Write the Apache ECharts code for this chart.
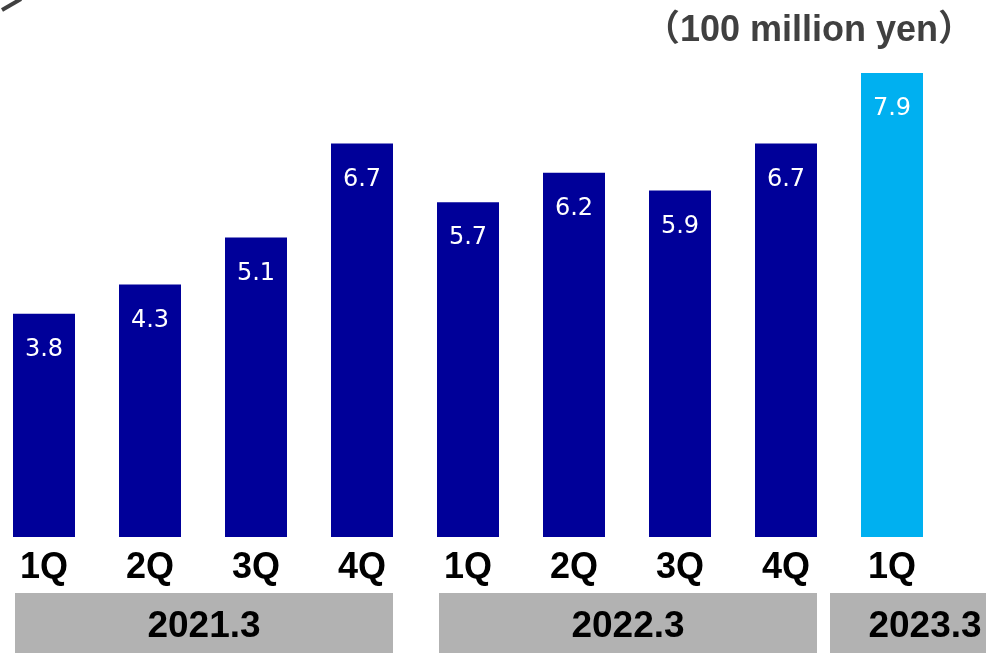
<!DOCTYPE html>
<html>
<head>
<meta charset="utf-8">
<script src="https://cdn.jsdelivr.net/npm/echarts@6/dist/echarts.min.js"></script>
<style>
  html, body { margin: 0; padding: 0; background: #ffffff; overflow: hidden; }
  #frame { position: relative; width: 986px; height: 653px; overflow: hidden; }
  /* the plot runs slightly past the left edge, so the canvas starts left of the frame */
  #chart { position: absolute; left: -9px; top: 0; width: 995px; height: 653px; }
</style>
</head>
<body>
<div id="frame"><div id="chart"></div></div>
<script>
// Quarterly figures, 100 million yen
const quarters = ['1Q', '2Q', '3Q', '4Q', '1Q', '2Q', '3Q', '4Q', '1Q'];
const values = [3.8, 4.3, 5.1, 6.7, 5.7, 6.2, 5.9, 6.7, 7.9];
const fiscalYears = ['2021.3', '2022.3', '2023.3'];
const yearFirstIndex = [0, 4, 8];
const yearLastIndex = [3, 7, 8];
const unitLabel = '（100 million yen）';

const DARK = '#000099';
const LIGHT = '#00B0F0';
const latestIndex = values.length - 1;
const SHIFT = 9; // canvas offset to the left of the frame

const chart = echarts.init(document.getElementById('chart'), null, { renderer: 'canvas' });

chart.setOption({
  animation: false,
  backgroundColor: '#ffffff',
  title: {
    text: unitLabel,
    right: 7,
    top: 8,
    textStyle: {
      fontFamily: 'Liberation Sans, Arial, Noto Sans CJK JP',
      fontWeight: 'bold',
      fontSize: 36,
      color: '#404040'
    }
  },
  grid: { left: 0, right: 41, top: 8.4, bottom: 116, containLabel: false },
  xAxis: {
    type: 'category',
    data: quarters,
    axisLine: { show: false },
    axisTick: { show: false },
    axisLabel: {
      margin: 13,
      fontFamily: 'Liberation Sans, Arial',
      fontWeight: 'bold',
      fontSize: 36,
      color: '#000000'
    }
  },
  yAxis: {
    type: 'value',
    min: 0,
    max: 9,
    show: false
  },
  series: [{
    type: 'bar',
    barWidth: 62,
    data: values.map((v, i) => ({
      value: v,
      itemStyle: { color: i === latestIndex ? LIGHT : DARK }
    })),
    label: {
      show: true,
      position: 'insideTop',
      distance: 24,
      formatter: p => p.value.toFixed(1),
      fontFamily: 'DejaVu Sans, Verdana',
      fontSize: 24,
      color: '#ffffff'
    }
  }]
});

// Fiscal-year bands beneath the quarter labels, placed from the category axis
const bandPad = [[29, 31], [29, 31], [62, 128]];
const bandTop = 593;
const bandHeight = 62;
const graphics = [{
  type: 'line',
  shape: { x1: 2 + SHIFT, y1: 10, x2: 21 + SHIFT, y2: -1 },
  style: { stroke: '#404040', lineWidth: 4 }
}];
fiscalYears.forEach((name, g) => {
  const x0 = chart.convertToPixel({ xAxisIndex: 0 }, yearFirstIndex[g]) - bandPad[g][0];
  const x1 = chart.convertToPixel({ xAxisIndex: 0 }, yearLastIndex[g]) + bandPad[g][1];
  graphics.push({
    type: 'rect',
    shape: { x: x0, y: bandTop, width: x1 - x0, height: bandHeight },
    style: { fill: '#b2b2b2' }
  });
  graphics.push({
    type: 'text',
    x: (x0 + x1) / 2,
    y: bandTop + 34,
    style: {
      text: name,
      align: 'center',
      verticalAlign: 'middle',
      font: 'bold 37px "Liberation Sans", Arial',
      fill: '#000000'
    }
  });
});
chart.setOption({ graphic: graphics });
</script>
</body>
</html>
